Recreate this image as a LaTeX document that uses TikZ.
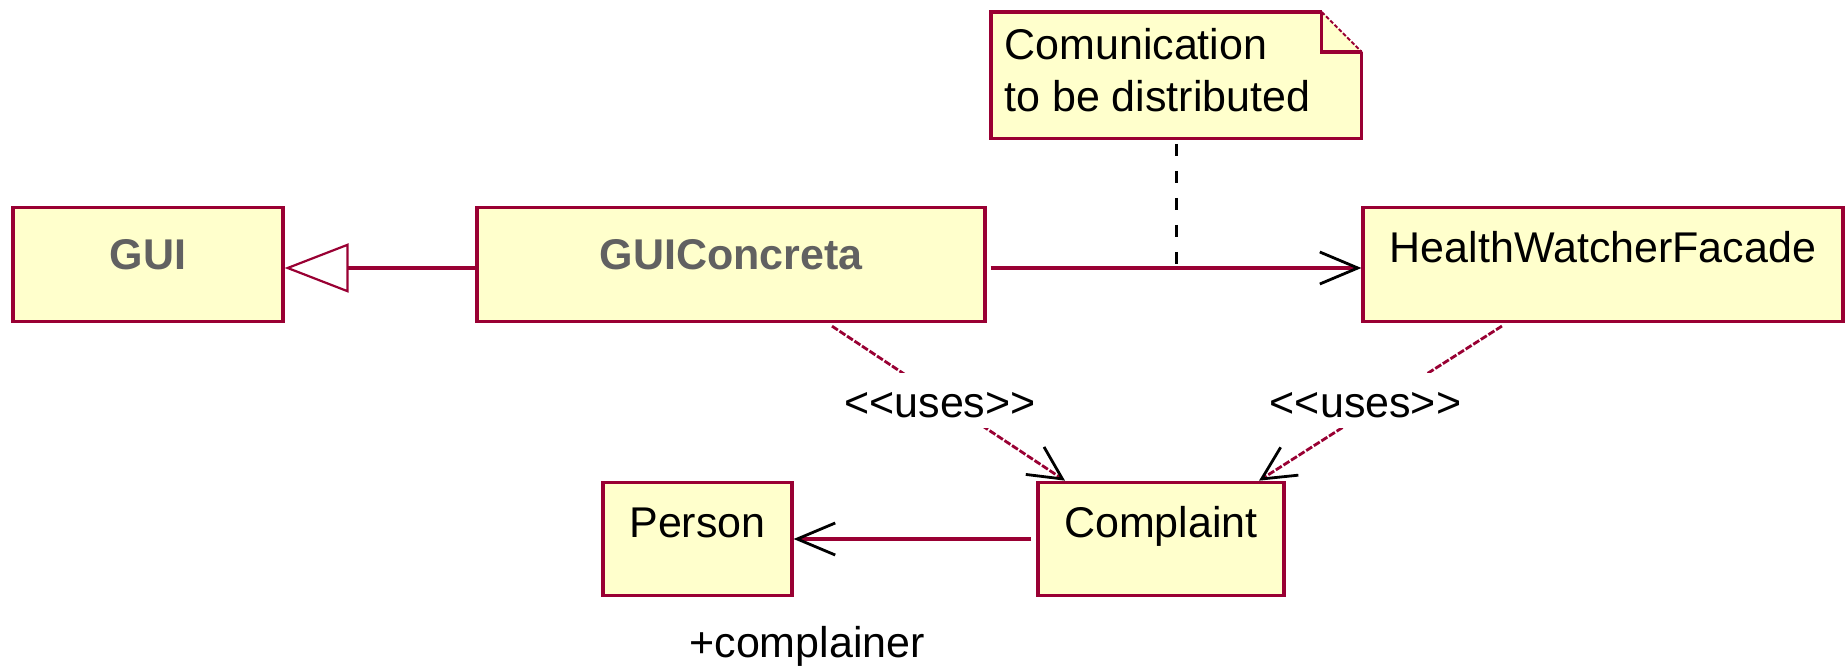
\documentclass[tikz,border=0pt]{standalone}
\usepackage{fontspec}
\setmainfont{Liberation Sans}
\usetikzlibrary{arrows.meta}

\definecolor{umlred}{HTML}{990033}
\definecolor{umlfill}{HTML}{FFFFCC}
\definecolor{umlgrey}{HTML}{616161}

\newcommand{\umlsize}{\fontsize{21.5pt}{26pt}\selectfont}

\begin{document}
\begin{tikzpicture}[
  x=0.5pt, y=-0.5pt,
  box/.style={rectangle, draw=umlred, fill=umlfill, line width=1.6pt, inner sep=0pt},
  classname/.style={box, font=\umlsize, text height=27.5pt, text depth=29.25pt},
  boldname/.style={box, font=\umlsize\bfseries, text=umlgrey, text height=30.75pt, text depth=26pt},
  link/.style={draw=umlred, line width=1.6pt},
  assoc/.style={link, -{Straight Barb[length=19pt, width=16pt, color=black, line width=1.4pt]}},
  generalise/.style={link, -{Triangle[open, length=32pt, width=24.5pt, line width=1.1pt]}},
  dependency/.style={draw=umlred, line width=1.4pt, dash pattern=on 3.5pt off 1pt, shorten <=3pt,
    -{Straight Barb[length=16.5pt, width=16.5pt, color=black, line width=1.4pt]}},
  stereo/.style={font=\umlsize, fill=white, inner xsep=2pt, inner ysep=0pt,
    text height=22.5pt, text depth=5pt, anchor=base},
  plaintext/.style={font=\umlsize, inner sep=0pt, anchor=base west},
  notelink/.style={draw=black, line width=1.5pt, dash pattern=on 6pt off 7.5pt, shorten <=2.5pt},
]
\path[use as bounding box] (0,0) rectangle (1845,667);

% classes
\node[boldname, minimum width=135pt] (gui) at (148,264.5) {GUI};
\node[boldname, minimum width=254pt] (guic) at (731,264.5) {GUIConcreta};
\node[classname, minimum width=240pt] (hwf) at (1603,264.5) {HealthWatcherFacade};
\node[classname, minimum width=94.5pt] (person) at (697.5,539) {Person};
\node[classname, minimum width=123pt] (comp) at (1161,539) {Complaint};

% note with folded corner
\node[minimum width=185pt, minimum height=63pt, inner sep=0pt, anchor=north west] (note) at (991,12) {};
\fill[umlfill] (note.north west) -- ([xshift=-20pt]note.north east) -- ([yshift=-20pt]note.north east)
  -- (note.south east) -- (note.south west) -- cycle;
\draw[umlred, line width=1.6pt] ([xshift=-20pt]note.north east) -- (note.north west) -- (note.south west)
  -- (note.south east) -- ([yshift=-20pt]note.north east);
\draw[umlred, line width=1.6pt] ([xshift=-20pt]note.north east) |- ([yshift=-20pt]note.north east);
\draw[umlred, line width=1pt, dash pattern=on 2pt off 1pt] ([xshift=-20pt]note.north east) -- ([yshift=-20pt]note.north east);
\node[plaintext] (notetext) at (1004,60)
  {\begin{tabular}[t]{@{}l@{}}Comunication\\to be distributed\end{tabular}};

% generalisation and associations
\draw[generalise] ([yshift=-1.75pt]guic.west) -- ([yshift=-1.75pt]gui.east);
\draw[assoc, shorten <=2pt] ([yshift=-1.75pt]guic.east) -- ([yshift=-1.75pt]hwf.west);
\draw[assoc, shorten <=2.5pt] (comp.west) -- (person.east);
\node[plaintext] (role) at (689,657) {+complainer};

% note attached to the association
\path (note.south |- guic.east) ++(0,3.5) coordinate (notefoot);
\draw[notelink] (note.south) -- (notefoot);

% usage dependencies
\draw[dependency] ([xshift=48pt]guic.south) -- ([xshift=-48pt]comp.north);
\draw[dependency] ([xshift=-48pt]hwf.south) -- ([xshift=49pt]comp.north);
\node[stereo] (uses1) at (940,418) {<\kern0pt<uses>\kern0pt>};
\node[stereo] (uses2) at (1365.5,418) {<\kern0pt<uses>\kern0pt>};
\end{tikzpicture}
\end{document}
